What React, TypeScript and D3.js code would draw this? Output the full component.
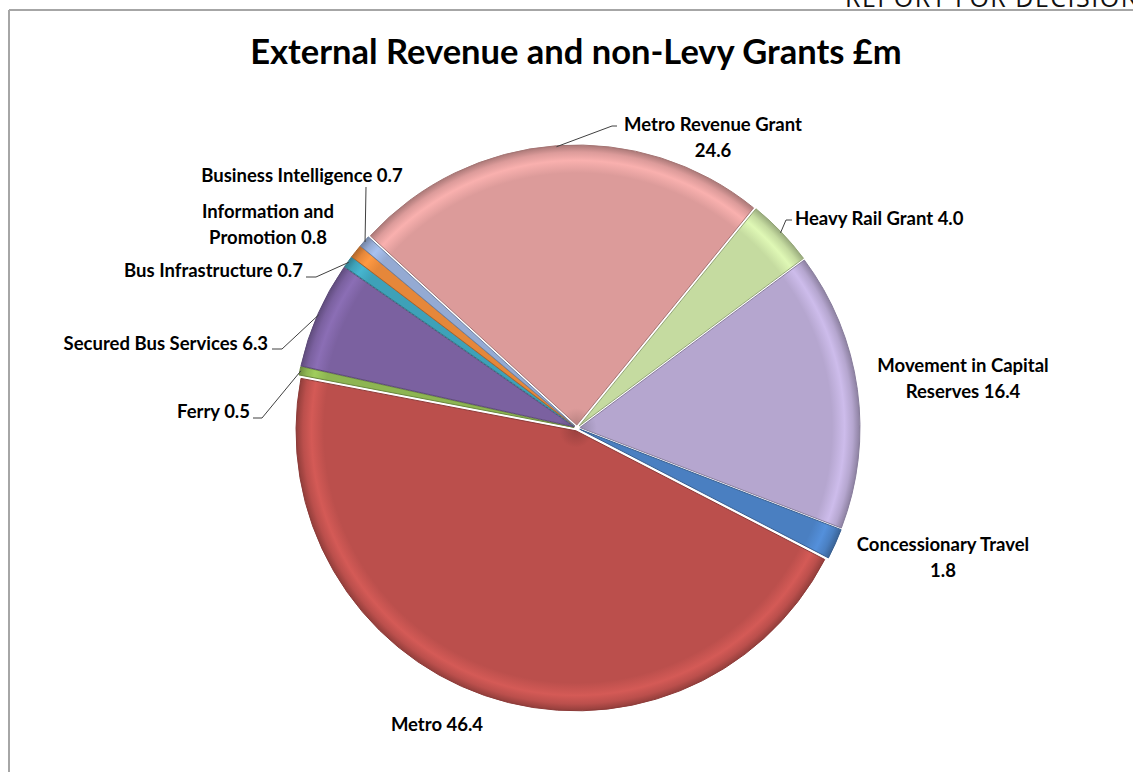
import { useEffect, useRef } from "react";
import * as d3 from "d3";

const categories = [
  "Metro Revenue Grant",
  "Heavy Rail Grant",
  "Movement in Capital Reserves",
  "Concessionary Travel",
  "Metro",
  "Ferry",
  "Secured Bus Services",
  "Bus Infrastructure",
  "Information and Promotion",
  "Business Intelligence",
];
const values = [24.6, 4.0, 16.4, 1.8, 46.4, 0.5, 6.3, 0.7, 0.8, 0.7];
const colors = [
  "#dc9b9a", "#c5dba0", "#b5a6cf", "#4a7fc1", "#bb4f4c",
  "#8db552", "#7b61a0", "#3ea1b8", "#e5873a", "#94aad3",
];
// label text lines (as shown on the chart)
const labelLines = [
  ["Metro Revenue Grant", "24.6"],
  ["Heavy Rail Grant 4.0"],
  ["Movement in Capital", "Reserves 16.4"],
  ["Concessionary Travel", "1.8"],
  ["Metro 46.4"],
  ["Ferry 0.5"],
  ["Secured Bus Services 6.3"],
  ["Bus Infrastructure 0.7"],
  ["Information and", "Promotion 0.8"],
  ["Business Intelligence 0.7"],
];

// label layout: x, y of first baseline, anchor, leader end (null = no leader)
const labelLayout: { x: number; y: number; anchor: string; lead: [number, number][] | null }[] = [
  { x: 713, y: 131, anchor: "middle", lead: [[617, 126], [612, 126]] },
  { x: 795, y: 225, anchor: "start", lead: [[792, 220], [786, 220]] },
  { x: 963, y: 372, anchor: "middle", lead: null },
  { x: 943, y: 551, anchor: "middle", lead: null },
  { x: 437, y: 731, anchor: "middle", lead: null },
  { x: 250, y: 418, anchor: "end", lead: [[253, 418], [262, 418]] },
  { x: 268, y: 350, anchor: "end", lead: [[272, 349], [282, 349]] },
  { x: 303, y: 277, anchor: "end", lead: [[306, 277], [316, 277]] },
  { x: 268, y: 218, anchor: "middle", lead: null },
  { x: 302, y: 182, anchor: "middle", lead: [[366, 187], [366, 187]] },
];

function App() {
  const ref = useRef<SVGSVGElement>(null);

  useEffect(() => {
    const svg = d3.select(ref.current);
    svg.selectAll("*").remove();
    const cx = 577, cy = 428, r = 280;
    const data = categories.map((c, i) => ({ name: c, value: values[i], i }));
    const start = (-47.5 * Math.PI) / 180;
    const pie = d3.pie<any>().value((d) => d.value).sort(null)
      .startAngle(start).endAngle(start + 2 * Math.PI);
    const arcs = pie(data);
    const arc = d3.arc<any>().innerRadius(0).outerRadius(r);

    // frame
    svg.append("line").attr("x1", 9).attr("x2", 1133).attr("y1", 10).attr("y2", 10)
      .attr("stroke", "#a6a6a6").attr("stroke-width", 2);
    svg.append("line").attr("x1", 9).attr("x2", 9).attr("y1", 10).attr("y2", 772)
      .attr("stroke", "#a6a6a6").attr("stroke-width", 2);

    svg.append("text").attr("x", 845).attr("y", 7).attr("font-family", "Open Sans, sans-serif")
      .attr("font-size", 25).attr("letter-spacing", 1.5).attr("fill", "#111").text("REPORT FOR DECISION");

    svg.append("text").attr("x", 576).attr("y", 64).attr("text-anchor", "middle")
      .attr("font-family", "Lato, sans-serif").attr("font-weight", "bold").attr("font-size", 34.5)
      .attr("fill", "#000").text("External Revenue and non-Levy Grants £m");

    const defs = svg.append("defs");
    colors.forEach((c, i) => {
      const g = defs.append("radialGradient").attr("id", "g" + i)
        .attr("gradientUnits", "userSpaceOnUse").attr("cx", 0).attr("cy", 0).attr("r", r);
      const col = d3.color(c)!;
      g.append("stop").attr("offset", "0").attr("stop-color", col.darker(0.5).formatHex());
      g.append("stop").attr("offset", "0.06").attr("stop-color", c);
      g.append("stop").attr("offset", "0.9").attr("stop-color", c);
      g.append("stop").attr("offset", "0.945").attr("stop-color", col.brighter(0.35).formatHex());
      g.append("stop").attr("offset", "0.975").attr("stop-color", c);
      g.append("stop").attr("offset", "1").attr("stop-color", col.darker(0.7).formatHex());
    });

    const explode = 3;
    const gPie = svg.append("g").attr("transform", `translate(${cx},${cy})`);
    gPie.selectAll("path").data(arcs).join("path")
      .attr("transform", (d) => {
        const m = (d.startAngle + d.endAngle) / 2;
        return `translate(${Math.sin(m) * explode},${-Math.cos(m) * explode})`;
      })
      .attr("d", arc)
      .attr("fill", (d) => `url(#g${d.data.i})`)
      .attr("stroke", (d) => d3.color(colors[d.data.i])!.darker(0.8).formatHex())
      .attr("stroke-width", 1);

    // leader lines
    arcs.forEach((d, i) => {
      const L = labelLayout[i];
      if (!L.lead) return;
      const m = (d.startAngle + d.endAngle) / 2;
      const px = cx + Math.sin(m) * (r + 2);
      const py = cy - Math.cos(m) * (r + 2);
      const pts: [number, number][] = [L.lead[0], L.lead[1], [px, py]];
      svg.append("path").attr("d", d3.line()(pts)).attr("fill", "none")
        .attr("stroke", "#404040").attr("stroke-width", 1);
    });

    // labels
    labelLines.forEach((lines, i) => {
      const L = labelLayout[i];
      const t = svg.append("text").attr("text-anchor", L.anchor)
        .attr("font-family", "Lato, sans-serif").attr("font-weight", "bold")
        .attr("font-size", 18.5).attr("fill", "#000");
      lines.forEach((ln, k) => {
        t.append("tspan").attr("x", L.x).attr("y", L.y + k * 26).text(ln);
      });
    });
  }, []);

  return (
    <svg ref={ref} width={1133} height={772}
      style={{ position: "absolute", left: 0, top: 0, background: "#fff" }} />
  );
}

export default App;
